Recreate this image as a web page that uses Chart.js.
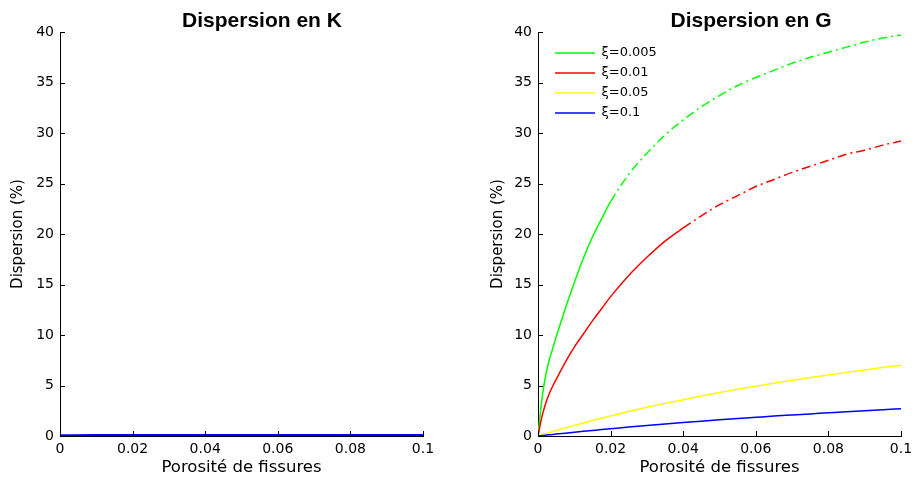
<!DOCTYPE html>
<html>
<head>
<meta charset="utf-8">
<script src="https://cdn.jsdelivr.net/npm/chart.js@4.4.1/dist/chart.umd.min.js"></script>
<style>
  html, body { margin: 0; padding: 0; background: #fff; overflow: hidden; }
  body { width: 912px; height: 481px; position: relative; }
  canvas { position: absolute; top: 0; }
  #graphique-k { left: 0; }
  #graphique-g { left: 480px; }
</style>
</head>
<body>
<canvas id="graphique-k" width="524" height="481"></canvas>
<canvas id="graphique-g" width="542" height="481"></canvas>
<script>
// Porosité de fissures (axe x) pour la dispersion en G
const porositeG = [0, 0.001, 0.002, 0.003, 0.004, 0.005, 0.0075, 0.01, 0.0125, 0.015, 0.0175, 0.02,
  0.025, 0.03, 0.035, 0.04, 0.045, 0.05, 0.055, 0.06, 0.065, 0.07, 0.075, 0.08, 0.085, 0.09, 0.095, 0.1];

// Dispersion en G (%) pour chaque valeur de xi
const gXi0005 = [0, 3.4, 5.8, 7.4, 8.6, 9.8, 12.6, 15.2, 17.6, 19.7, 21.5, 23.2,
  25.9, 28.0, 29.8, 31.3, 32.6, 33.7, 34.7, 35.5, 36.2, 36.9, 37.5, 38.0, 38.5, 39.0, 39.4, 39.7];
const gXi001 = [0, 1.8, 3.1, 4.1, 4.9, 5.6, 7.3, 8.8, 10.1, 11.4, 12.6, 13.8,
  15.9, 17.7, 19.3, 20.6, 21.8, 22.9, 23.8, 24.7, 25.4, 26.1, 26.7, 27.3, 27.9, 28.3, 28.8, 29.2];
const gXi005 = [0, 0.11, 0.22, 0.33, 0.43, 0.54, 0.80, 1.05, 1.29, 1.53, 1.76, 1.99,
  2.42, 2.84, 3.23, 3.60, 3.96, 4.30, 4.62, 4.93, 5.23, 5.51, 5.79, 6.05, 6.30, 6.54, 6.78, 7.00];
const gXi01 = [0, 0.04, 0.08, 0.12, 0.15, 0.19, 0.28, 0.37, 0.46, 0.55, 0.64, 0.72,
  0.88, 1.03, 1.18, 1.33, 1.46, 1.60, 1.73, 1.85, 1.97, 2.08, 2.19, 2.30, 2.41, 2.51, 2.60, 2.70];

// Dispersion en K (%) : quasi nulle
const porositeK = [0, 0.01, 0.02, 0.03, 0.04, 0.05, 0.06, 0.07, 0.08, 0.09, 0.1];
const kXi0005 = [0, 0.02, 0.03, 0.03, 0.03, 0.03, 0.03, 0.03, 0.03, 0.03, 0.03];
const kXi001 = [0, 0.02, 0.02, 0.03, 0.03, 0.03, 0.03, 0.03, 0.03, 0.03, 0.03];
const kXi005 = [0, 0.01, 0.02, 0.02, 0.02, 0.02, 0.02, 0.02, 0.02, 0.02, 0.02];
const kXi01 = [0.03, 0.04, 0.04, 0.05, 0.05, 0.05, 0.05, 0.05, 0.05, 0.05, 0.05];

const etiquettes = ["ξ=0.005", "ξ=0.01", "ξ=0.05", "ξ=0.1"];
const graduationsX = [0, 0.02, 0.04, 0.06, 0.08, 0.1];
const graduationsY = [0, 5, 10, 15, 20, 25, 30, 35, 40];

const couleurs = ["#00ff00", "#ff0000", "#ffff00", "#0000ff"];
// trait mixte (-.) à partir de cette porosité
const debutTirets = [0.02, 0.04, null, null];

Chart.defaults.font.family = "'DejaVu Sans', sans-serif";
Chart.defaults.color = "#000";

// Petites graduations vers l'intérieur, comme dans Matlab
const graduationsInternes = {
  id: "graduationsInternes",
  afterDraw(chart) {
    const { ctx, chartArea: a, scales: { x, y } } = chart;
    ctx.save();
    ctx.strokeStyle = "#000";
    ctx.lineWidth = 1;
    ctx.beginPath();
    x.ticks.forEach(t => {
      const px = Math.round(x.getPixelForValue(t.value)) + 0.5;
      ctx.moveTo(px, a.bottom);
      ctx.lineTo(px, a.bottom - 5);
    });
    y.ticks.forEach(t => {
      const py = Math.round(y.getPixelForValue(t.value)) + 0.5;
      ctx.moveTo(a.left, py);
      ctx.lineTo(a.left + 5, py);
    });
    ctx.stroke();
    ctx.restore();
  },
};

// Légende en haut à gauche, dans le cadre
const legendeDansCadre = {
  id: "legendeDansCadre",
  afterLayout(chart) {
    const lg = chart.legend;
    if (!lg || !lg.options.display) return;
    const a = chart.chartArea;
    const w = lg.width, h = lg.height;
    lg.left = a.left + 10;
    lg.right = lg.left + w;
    lg.top = a.top + 7.5;
    lg.bottom = lg.top + h;
  },
};

function jeuxDeDonnees(xs, series, epaisseurs, tirets) {
  return series.map((ys, i) => ({
    label: etiquettes[i],
    data: xs.map((x, j) => ({ x: x, y: ys[j] })),
    borderColor: couleurs[i],
    backgroundColor: couleurs[i],
    borderWidth: epaisseurs[i],
    pointRadius: 0,
    cubicInterpolationMode: "monotone",
    order: series.length - i,
    segment: tirets && tirets[i] !== null
      ? { borderDash: c => (c.p0.parsed.x >= tirets[i] - 1e-9 ? [9, 4, 2, 4] : undefined) }
      : undefined,
  }));
}

function creerGraphique(id, titre, datasets, largeurY, largeurDroite, avecLegende) {
  const ctx = document.getElementById(id).getContext("2d");
  return new Chart(ctx, {
    type: "line",
    data: { datasets: datasets },
    options: {
      responsive: false,
      animation: false,
      events: [],
      layout: { padding: 0 },
      plugins: {
        tooltip: { enabled: false },
        title: {
          display: true,
          text: titre,
          color: "#000",
          font: { family: "'Liberation Sans', Arial, sans-serif", weight: "bold", size: 21, lineHeight: 1 },
          padding: { top: 11, bottom: 0 },
        },
        legend: {
          display: avecLegende,
          position: "chartArea",
          align: "start",
          labels: {
            usePointStyle: true,
            pointStyle: "line",
            pointStyleWidth: 40,
            boxHeight: 13,
            padding: 7,
            font: { size: 13 },
            color: "#000",
            sort: (a, b) => a.datasetIndex - b.datasetIndex,
          },
        },
      },
      scales: {
        x: {
          type: "linear",
          min: 0,
          max: 0.1,
          afterBuildTicks: s => { s.ticks = graduationsX.map(v => ({ value: v })); },
          ticks: { font: { size: 14 }, padding: 5, maxRotation: 0, autoSkip: false, callback: v => String(v) },
          grid: { display: true, drawOnChartArea: false, drawTicks: false },
          border: { display: true, color: "#000", width: 1 },
          title: { display: true, text: "Porosité de fissures", font: { size: 16.5 }, padding: { top: 0, bottom: 3 } },
          afterFit: s => { s.height = 45; },
        },
        y: {
          type: "linear",
          min: 0,
          max: 40,
          afterBuildTicks: s => { s.ticks = graduationsY.map(v => ({ value: v })); },
          ticks: { font: { size: 14 }, padding: 6, autoSkip: false },
          grid: { display: true, drawOnChartArea: false, drawTicks: false },
          border: { display: true, color: "#000", width: 1 },
          title: { display: true, text: "Dispersion (%)", font: { size: 15 }, padding: { top: 9, bottom: 0 } },
          afterFit: s => { s.width = largeurY; },
        },
        // axe vide qui réserve la marge de droite
        marge: {
          type: "linear",
          position: "right",
          min: 0,
          max: 1,
          ticks: { display: false },
          grid: { display: false },
          border: { display: false },
          afterFit: s => { s.width = largeurDroite; },
        },
      },
    },
    plugins: [graduationsInternes, legendeDansCadre],
  });
}

creerGraphique("graphique-k", "Dispersion en K",
  jeuxDeDonnees(porositeK, [kXi0005, kXi001, kXi005, kXi01], [2, 2, 2, 3], null), 60, 101, false);

creerGraphique("graphique-g", "Dispersion en G",
  jeuxDeDonnees(porositeG, [gXi0005, gXi001, gXi005, gXi01], [1.5, 1.5, 1.5, 1.5], debutTirets), 58, 121, true);
</script>
</body>
</html>
